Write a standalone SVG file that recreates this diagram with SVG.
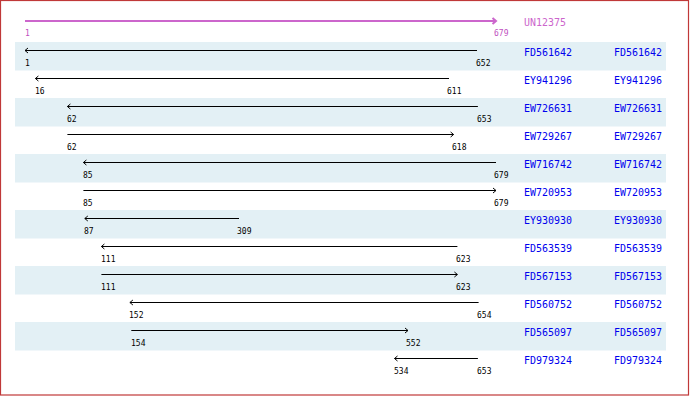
<svg xmlns="http://www.w3.org/2000/svg" width="690" height="396" viewBox="0 0 690 396">
<style>
.band{fill:#e3f0f5}
.seq{stroke:#000;stroke-width:1;fill:none}
.head{stroke:#000;stroke-width:1;fill:none}
.num{font-family:"DejaVu Sans Mono","Liberation Mono",monospace;font-size:8px;fill:#000}
.lab{font-family:"DejaVu Sans Mono","Liberation Mono",monospace;font-size:11px;fill:#0000ee}
.q{stroke:#cc66cc;stroke-width:2;fill:none}
.qn{font-family:"DejaVu Sans Mono","Liberation Mono",monospace;font-size:8px;fill:#c050c0}
.ql{font-family:"DejaVu Sans Mono","Liberation Mono",monospace;font-size:11px;fill:#cc66cc}
</style>
<rect x="0.5" y="0.5" width="688" height="394.5" fill="#fff" stroke="#c03838" stroke-width="1.2"/>
<g id="bands">
<rect class="band" x="15" y="42" width="651" height="28.5"/>
<rect class="band" x="15" y="98" width="651" height="28.5"/>
<rect class="band" x="15" y="154" width="651" height="28.5"/>
<rect class="band" x="15" y="210" width="651" height="28.5"/>
<rect class="band" x="15" y="266" width="651" height="28.5"/>
<rect class="band" x="15" y="322" width="651" height="28.5"/>
</g>
<g id="UN12375">
<line class="q" x1="25" y1="21" x2="496" y2="21"/>
<path class="q" d="M492.5,18 L496,21 L492.5,24" stroke-width="1.5"/>
<text class="qn" x="25" y="36">1</text>
<text class="qn" x="494" y="36">679</text>
<text class="ql" x="524" y="26" textLength="42" lengthAdjust="spacingAndGlyphs">UN12375</text>
</g>
<g id="connectors">
<g id="r1"><line class="seq" x1="25" y1="50.5" x2="477" y2="50.5"/><path class="head" d="M28,48 L25,50.5 L28,53"/></g>
<g id="r2"><line class="seq" x1="35.4" y1="78.5" x2="449" y2="78.5"/><path class="head" d="M38.4,76 L35.4,78.5 L38.4,81"/></g>
<g id="r3"><line class="seq" x1="67.4" y1="106.5" x2="477.9" y2="106.5"/><path class="head" d="M70.4,104 L67.4,106.5 L70.4,109"/></g>
<g id="r4"><line class="seq" x1="67.4" y1="134.5" x2="453.6" y2="134.5"/><path class="head" d="M450.6,132 L453.6,134.5 L450.6,137"/></g>
<g id="r5"><line class="seq" x1="83.4" y1="162.5" x2="496" y2="162.5"/><path class="head" d="M86.4,160 L83.4,162.5 L86.4,165"/></g>
<g id="r6"><line class="seq" x1="83.4" y1="190.5" x2="496" y2="190.5"/><path class="head" d="M493,188 L496,190.5 L493,193"/></g>
<g id="r7"><line class="seq" x1="84.8" y1="218.5" x2="239" y2="218.5"/><path class="head" d="M87.8,216 L84.8,218.5 L87.8,221"/></g>
<g id="r8"><line class="seq" x1="101.4" y1="246.5" x2="457.4" y2="246.5"/><path class="head" d="M104.4,244 L101.4,246.5 L104.4,249"/></g>
<g id="r9"><line class="seq" x1="101.4" y1="274.5" x2="457.4" y2="274.5"/><path class="head" d="M454.4,272 L457.4,274.5 L454.4,277"/></g>
<g id="r10"><line class="seq" x1="129.9" y1="302.5" x2="478.6" y2="302.5"/><path class="head" d="M132.9,300 L129.9,302.5 L132.9,305"/></g>
<g id="r11"><line class="seq" x1="131.3" y1="330.5" x2="408" y2="330.5"/><path class="head" d="M405,328 L408,330.5 L405,333"/></g>
<g id="r12"><line class="seq" x1="394.5" y1="358.5" x2="477.9" y2="358.5"/><path class="head" d="M397.5,356 L394.5,358.5 L397.5,361"/></g>
</g>
<g id="FD561642"><text class="num" x="25" y="66">1</text><text class="num" x="476" y="66">652</text><text class="lab" x="524" y="56" textLength="48" lengthAdjust="spacingAndGlyphs">FD561642</text><text class="lab" x="614" y="56" textLength="48" lengthAdjust="spacingAndGlyphs">FD561642</text></g>
<g id="EY941296"><text class="num" x="35" y="94">16</text><text class="num" x="447" y="94">611</text><text class="lab" x="524" y="84" textLength="48" lengthAdjust="spacingAndGlyphs">EY941296</text><text class="lab" x="614" y="84" textLength="48" lengthAdjust="spacingAndGlyphs">EY941296</text></g>
<g id="EW726631"><text class="num" x="67" y="122">62</text><text class="num" x="477" y="122">653</text><text class="lab" x="524" y="112" textLength="48" lengthAdjust="spacingAndGlyphs">EW726631</text><text class="lab" x="614" y="112" textLength="48" lengthAdjust="spacingAndGlyphs">EW726631</text></g>
<g id="EW729267"><text class="num" x="67" y="150">62</text><text class="num" x="452" y="150">618</text><text class="lab" x="524" y="140" textLength="48" lengthAdjust="spacingAndGlyphs">EW729267</text><text class="lab" x="614" y="140" textLength="48" lengthAdjust="spacingAndGlyphs">EW729267</text></g>
<g id="EW716742"><text class="num" x="83" y="178">85</text><text class="num" x="494" y="178">679</text><text class="lab" x="524" y="168" textLength="48" lengthAdjust="spacingAndGlyphs">EW716742</text><text class="lab" x="614" y="168" textLength="48" lengthAdjust="spacingAndGlyphs">EW716742</text></g>
<g id="EW720953"><text class="num" x="83" y="206">85</text><text class="num" x="494" y="206">679</text><text class="lab" x="524" y="196" textLength="48" lengthAdjust="spacingAndGlyphs">EW720953</text><text class="lab" x="614" y="196" textLength="48" lengthAdjust="spacingAndGlyphs">EW720953</text></g>
<g id="EY930930"><text class="num" x="84" y="234">87</text><text class="num" x="237" y="234">309</text><text class="lab" x="524" y="224" textLength="48" lengthAdjust="spacingAndGlyphs">EY930930</text><text class="lab" x="614" y="224" textLength="48" lengthAdjust="spacingAndGlyphs">EY930930</text></g>
<g id="FD563539"><text class="num" x="101" y="262">111</text><text class="num" x="456" y="262">623</text><text class="lab" x="524" y="252" textLength="48" lengthAdjust="spacingAndGlyphs">FD563539</text><text class="lab" x="614" y="252" textLength="48" lengthAdjust="spacingAndGlyphs">FD563539</text></g>
<g id="FD567153"><text class="num" x="101" y="290">111</text><text class="num" x="456" y="290">623</text><text class="lab" x="524" y="280" textLength="48" lengthAdjust="spacingAndGlyphs">FD567153</text><text class="lab" x="614" y="280" textLength="48" lengthAdjust="spacingAndGlyphs">FD567153</text></g>
<g id="FD560752"><text class="num" x="129" y="318">152</text><text class="num" x="477" y="318">654</text><text class="lab" x="524" y="308" textLength="48" lengthAdjust="spacingAndGlyphs">FD560752</text><text class="lab" x="614" y="308" textLength="48" lengthAdjust="spacingAndGlyphs">FD560752</text></g>
<g id="FD565097"><text class="num" x="131" y="346">154</text><text class="num" x="406" y="346">552</text><text class="lab" x="524" y="336" textLength="48" lengthAdjust="spacingAndGlyphs">FD565097</text><text class="lab" x="614" y="336" textLength="48" lengthAdjust="spacingAndGlyphs">FD565097</text></g>
<g id="FD979324"><text class="num" x="394" y="374">534</text><text class="num" x="477" y="374">653</text><text class="lab" x="524" y="364" textLength="48" lengthAdjust="spacingAndGlyphs">FD979324</text><text class="lab" x="614" y="364" textLength="48" lengthAdjust="spacingAndGlyphs">FD979324</text></g>
</svg>
